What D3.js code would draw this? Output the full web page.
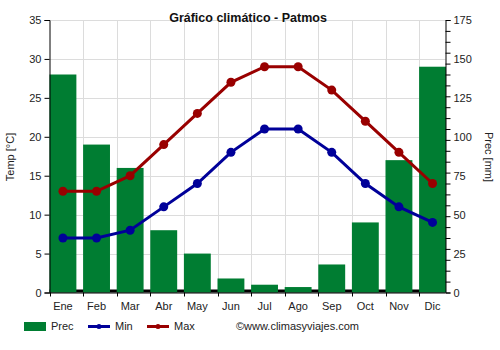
<!DOCTYPE html>
<html>
<head>
<meta charset="utf-8">
<script src="https://cdn.jsdelivr.net/npm/d3@7"></script>
<style>
  body { margin: 0; background: #fff; }
  svg { display: block; font-family: "Liberation Sans", Arial, sans-serif; }
</style>
</head>
<body>
<svg id="chart" width="500" height="350"></svg>
<script>
// Monthly climate data for Patmos
const months = ["Ene", "Feb", "Mar", "Abr", "May", "Jun", "Jul", "Ago", "Sep", "Oct", "Nov", "Dic"];
const prec = [140, 95, 80, 40, 25, 9, 5, 3.5, 18, 45, 85, 145];
const tMin = [7, 7, 8, 11, 14, 18, 21, 21, 18, 14, 11, 9];
const tMax = [13, 13, 15, 19, 23, 27, 29, 29, 26, 22, 18, 14];
const tempTicks = [0, 5, 10, 15, 20, 25, 30, 35];
const precTicks = [0, 25, 50, 75, 100, 125, 150, 175];

const colPrec = "#007d32", colMin = "#000099", colMax = "#990000";
const txt = "#222";

const svg = d3.select("#chart");
const plotL = 49.5, plotR = 445.5, plotT = 20, plotB = 292.5;

const x = d3.scaleBand().domain(months).range([plotL, plotL + 12 * 33.6]).padding(0);
const barW = x.bandwidth() * 0.8;
const cx = m => x(m) + barW / 2;
const yT = d3.scaleLinear().domain([0, 35]).range([plotB, plotT]);
const yP = d3.scaleLinear().domain([0, 175]).range([plotB, plotT]);

// grid
const grid = svg.append("g").attr("stroke", "#dcdcdc").attr("stroke-width", 1);
tempTicks.filter(t => t > 0).forEach(t => {
  grid.append("line").attr("x1", plotL).attr("x2", plotR)
    .attr("y1", Math.round(yT(t)) + 0.5).attr("y2", Math.round(yT(t)) + 0.5);
});
months.slice(1).forEach(m => {
  const gx = Math.round(x(m)) + 0.5;
  grid.append("line").attr("x1", gx).attr("x2", gx).attr("y1", plotT).attr("y2", plotB);
});

// heavy baseline
svg.append("line").attr("x1", plotL).attr("x2", plotR)
  .attr("y1", plotB - 1.5).attr("y2", plotB - 1.5)
  .attr("stroke", "#000").attr("stroke-width", 3);

// precipitation bars
svg.append("g").selectAll("rect").data(months).join("rect")
  .attr("x", m => x(m))
  .attr("width", barW)
  .attr("y", (m, i) => yP(prec[i]))
  .attr("height", (m, i) => plotB - yP(prec[i]))
  .attr("fill", colPrec);

// axes
svg.append("g").attr("transform", `translate(${plotL},0)`)
  .call(d3.axisLeft(yT).tickValues(tempTicks).tickSize(5).tickPadding(3));
svg.append("g").attr("transform", `translate(${plotR},0)`)
  .call(d3.axisRight(yP).tickValues(d3.range(0, 176, 7)).tickSize(5).tickFormat(""));
svg.append("g").attr("transform", `translate(${plotR},0)`)
  .call(d3.axisRight(yP).tickValues(precTicks).tickSize(0).tickPadding(8))
  .call(g => g.select(".domain").remove());
const axB = svg.append("g").attr("transform", `translate(0,${plotB})`)
  .call(d3.axisBottom(x).tickSize(0).tickPadding(10));
axB.select(".domain").attr("d", `M${plotL},0.5H${plotR}`);
axB.selectAll(".tick text").attr("dx", barW / 2 - x.bandwidth() / 2);
// bottom ticks at month boundaries
svg.append("g").selectAll("line").data(months).join("line")
  .attr("x1", m => Math.round(x(m)) + 0.5).attr("x2", m => Math.round(x(m)) + 0.5)
  .attr("y1", plotB).attr("y2", plotB + 4).attr("stroke", "#000");

svg.selectAll(".tick text").attr("fill", txt).attr("font-size", 11)
  .attr("font-family", "Liberation Sans, Arial, sans-serif");
svg.selectAll(".tick line, .domain").attr("stroke", "#000");

// temperature lines
const line = d3.line().x((d, i) => cx(months[i])).y(d => yT(d));
[[tMin, colMin], [tMax, colMax]].forEach(([data, c]) => {
  svg.append("path").datum(data).attr("d", line)
    .attr("fill", "none").attr("stroke", c).attr("stroke-width", 3);
  svg.append("g").selectAll("circle").data(data).join("circle")
    .attr("cx", (d, i) => cx(months[i])).attr("cy", d => yT(d))
    .attr("r", 4.5).attr("fill", c);
});

// titles
svg.append("text").attr("x", 248).attr("y", 22).attr("text-anchor", "middle")
  .attr("font-size", 12.5).attr("font-weight", "bold").attr("fill", "#111")
  .text("Gráfico climático - Patmos");
svg.append("text").attr("transform", "translate(14,157) rotate(-90)")
  .attr("text-anchor", "middle").attr("font-size", 11).attr("fill", txt)
  .text("Temp [°C]");
svg.append("text").attr("transform", "translate(485,157) rotate(90)")
  .attr("text-anchor", "middle").attr("font-size", 11).attr("fill", txt)
  .text("Prec [mm]");

// legend
const lg = svg.append("g").attr("font-size", 11).attr("fill", txt);
lg.append("rect").attr("x", 24).attr("y", 322).attr("width", 22).attr("height", 9).attr("fill", colPrec);
lg.append("text").attr("x", 51).attr("y", 330).text("Prec");
[[88, colMin, "Min"], [147, colMax, "Max"]].forEach(([lx, c, t]) => {
  lg.append("line").attr("x1", lx).attr("x2", lx + 22).attr("y1", 326.5).attr("y2", 326.5)
    .attr("stroke", c).attr("stroke-width", 3);
  lg.append("circle").attr("cx", lx + 11).attr("cy", 326.5).attr("r", 2.5).attr("fill", c);
  lg.append("text").attr("x", lx + 27).attr("y", 330).text(t);
});
lg.append("text").attr("x", 236).attr("y", 330).text("©www.climasyviajes.com");
</script>
</body>
</html>
